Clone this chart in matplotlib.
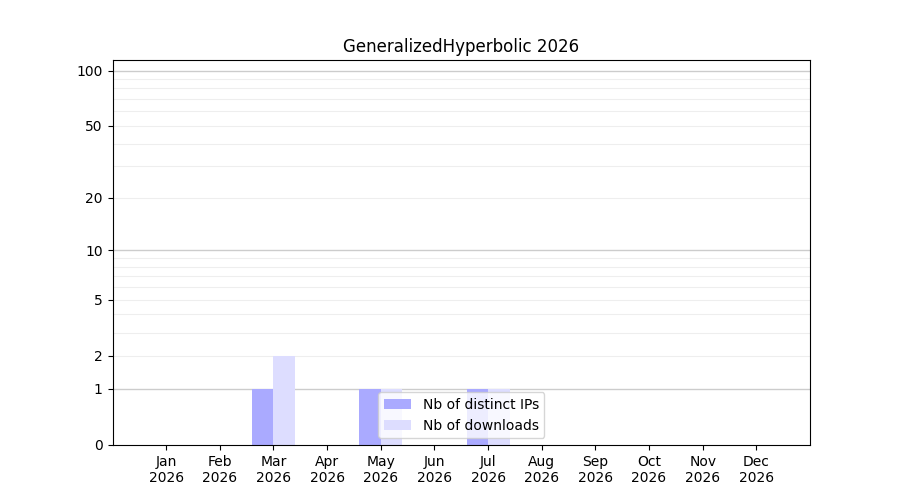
import numpy as np
import matplotlib
matplotlib.use('Agg')
import matplotlib.pyplot as plt
from matplotlib.ticker import FixedLocator, FixedFormatter

# valeurs
mois = ['Jan', 'Feb', 'Mar', 'Apr', 'May', 'Jun', 'Jul', 'Aug', 'Sep', 'Oct', 'Nov', 'Dec']
annee = '2026'
nb_ips = [0, 0, 1, 0, 1, 0, 1, 0, 0, 0, 0, 0]
nb_downloads = [0, 0, 2, 0, 1, 0, 1, 0, 0, 0, 0, 0]

graduations = [0, 1, 2, 5, 10, 20, 50, 100]
grille_majeure = [1, 10, 100]
grille_mineure = [2, 3, 4, 5, 6, 7, 8, 9, 20, 30, 40, 50, 60, 70, 80, 90]


def avant(y):
    return np.log10(1 + np.clip(y, 0, None))


def arriere(y):
    return 10 ** y - 1


fig, ax = plt.subplots(figsize=(9, 5), dpi=100)
x = np.arange(len(mois))
largeur = 0.4

ax.bar(x - largeur / 2, nb_ips, largeur, color='#aaaaff', label='Nb of distinct IPs', zorder=2)
ax.bar(x + largeur / 2, nb_downloads, largeur, color='#ddddff', label='Nb of downloads', zorder=2)

ax.set_yscale('function', functions=(avant, arriere))
ax.set_ylim(0, 114)
ax.set_xlim(-1, 12)

ax.yaxis.set_major_locator(FixedLocator(graduations))
ax.yaxis.set_major_formatter(FixedFormatter([str(g) for g in graduations]))
ax.yaxis.set_minor_locator(FixedLocator([]))

for g in grille_majeure:
    ax.axhline(g, color='#cccccc', linewidth=1, zorder=1)
for g in grille_mineure:
    ax.axhline(g, color='#eeeeee', linewidth=0.8, zorder=1)

ax.set_xticks(x)
ax.set_xticklabels([m + '\n' + annee for m in mois])
ax.set_title('GeneralizedHyperbolic ' + annee)
ax.legend(loc='lower center')

plt.savefig('out.png')
